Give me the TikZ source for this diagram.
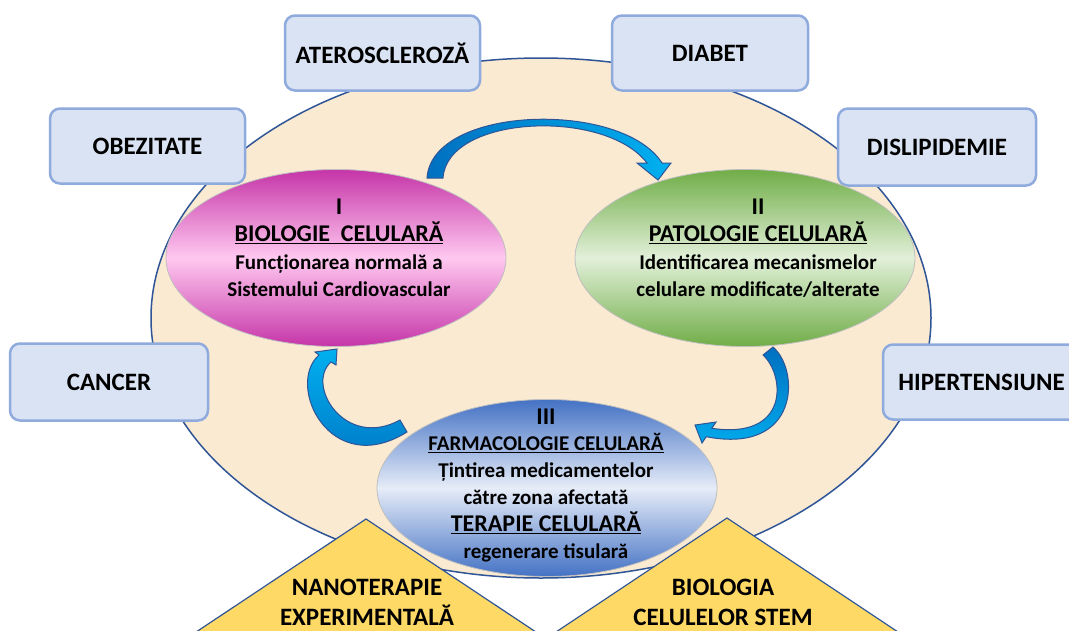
\documentclass[tikz,border=0pt]{standalone}
\usepackage{fontspec}
\setmainfont{Carlito}
\usetikzlibrary{shapes.geometric}
\definecolor{beige}{HTML}{FAEAD2}
\definecolor{boxfill}{HTML}{DAE3F3}
\definecolor{boxline}{HTML}{8FAADC}
\definecolor{darkline}{HTML}{2F5597}
\definecolor{magdark}{HTML}{C535A8}
\definecolor{maglight}{HTML}{FFC8F0}
\definecolor{grndark}{HTML}{70AD47}
\definecolor{grnlight}{HTML}{E2F0D9}
\definecolor{bludark}{HTML}{4472C4}
\definecolor{blulight}{HTML}{E6ECF8}
\definecolor{trifill}{HTML}{FFD966}
\definecolor{arrdark}{HTML}{0070C0}
\definecolor{arrlight}{HTML}{00B0F0}
\definecolor{ellline}{HTML}{BFBFBF}
\newcommand{\titlesize}{\fontsize{24}{28}\selectfont}
\tikzset{
  disease/.style={draw=boxline, line width=2.5pt, fill=boxfill, rounded corners=10pt,
    minimum height=75pt, inner sep=0pt, font=\fontsize{25}{29}\selectfont\bfseries},
  cellell/.style={ellipse, draw=ellline, line width=0.8pt, minimum width=340pt,
    minimum height=177pt, inner sep=0pt},
  elltext/.style={align=center, inner sep=0pt, font=\fontsize{21}{27.5}\selectfont\bfseries},
  tri/.style={draw=darkline, line width=1.2pt, fill=trifill},
  tritext/.style={align=center, inner sep=0pt, font=\fontsize{25}{30}\selectfont\bfseries},
  blockarrow/.style={draw=darkline, line width=1pt}
}
\begin{document}
\begin{tikzpicture}[x=1pt,y=-1pt]
\clip (0,0) rectangle (1069,630);
\fill[white] (0,0) rectangle (1069,630);
% large background ellipse
\draw[draw=darkline, line width=1.5pt, fill=beige] (541,318) ellipse [x radius=390pt, y radius=260pt];
% disease boxes
\node[disease, minimum width=195pt] (ater) at (382.5,53) {ATEROSCLEROZĂ};
\node[disease, minimum width=196pt] (diab) at (710,53) {DIABET};
\node[disease, minimum width=195pt] (obez) at (147.5,146) {OBEZITATE};
\node[disease, minimum width=198pt, minimum height=77pt] (disl) at (937,147) {DISLIPIDEMIE};
\node[disease, minimum width=198pt, minimum height=77pt] (canc) at (109,382) {CANCER};
\node[disease, minimum width=197pt, minimum height=75pt] (hipe) at (981.5,382) {HIPERTENSIUNE};
% cell ellipses
\node[cellell, top color=magdark, bottom color=magdark, middle color=maglight] (bio) at (336,258) {};
\node[cellell, top color=grndark, bottom color=grndark, middle color=grnlight] (pat) at (745,258) {};
\node[cellell, top color=bludark, bottom color=bludark, middle color=blulight] (far) at (547,488) {};
% curved block arrows
\path[blockarrow, left color=arrdark, right color=arrlight]
  (427,178) .. controls (432,105) and (622,100) .. (662,163)
  -- (671,163) -- (658,180) -- (637,163) -- (647,163)
  .. controls (605,108) and (447,115) .. (443,178) -- cycle;
\path[blockarrow, top color=arrdark, bottom color=arrlight]
  (773,347) .. controls (800,370) and (800,455) .. (706.2,436.7)
  -- (702,443) -- (695,425) -- (716,422) -- (711.8,428.3)
  .. controls (790,440) and (785,375) .. (763,355) -- cycle;
\path[blockarrow, top color=arrlight, bottom color=arrdark]
  (407,432) .. controls (330,480) and (285,385) .. (319,355)
  -- (315,352) -- (337,349) -- (336,365) -- (331,362)
  .. controls (305,385) and (345,450) .. (400,420) -- cycle;
% triangles
\path[tri] (366,519) -- (578,660) -- (154,660) -- cycle;
\path[tri] (727,518) -- (940,660) -- (514,660) -- cycle;
% texts
\node[elltext] (biot) at (339,248) {{\titlesize I}\\{\titlesize\underline{BIOLOGIE\ \ CELULARĂ}}\\Funcționarea normală a\\Sistemului Cardiovascular};
\node[elltext] (patt) at (758,248) {{\titlesize II}\\{\titlesize\underline{PATOLOGIE CELULARĂ}}\\Identificarea mecanismelor\\celulare modificate/alterate};
\node[elltext, font=\fontsize{21}{26.8}\selectfont\bfseries] (fart) at (546,485) {{\titlesize III}\\\underline{FARMACOLOGIE CELULARĂ}\\Țintirea medicamentelor\\către zona afectată\\{\titlesize\underline{TERAPIE CELULARĂ}}\\regenerare tisulară};
\node[tritext] (nano) at (367,602) {NANOTERAPIE\\EXPERIMENTALĂ};
\node[tritext] (stem) at (723,602) {BIOLOGIA\\CELULELOR STEM};
\end{tikzpicture}
\end{document}
